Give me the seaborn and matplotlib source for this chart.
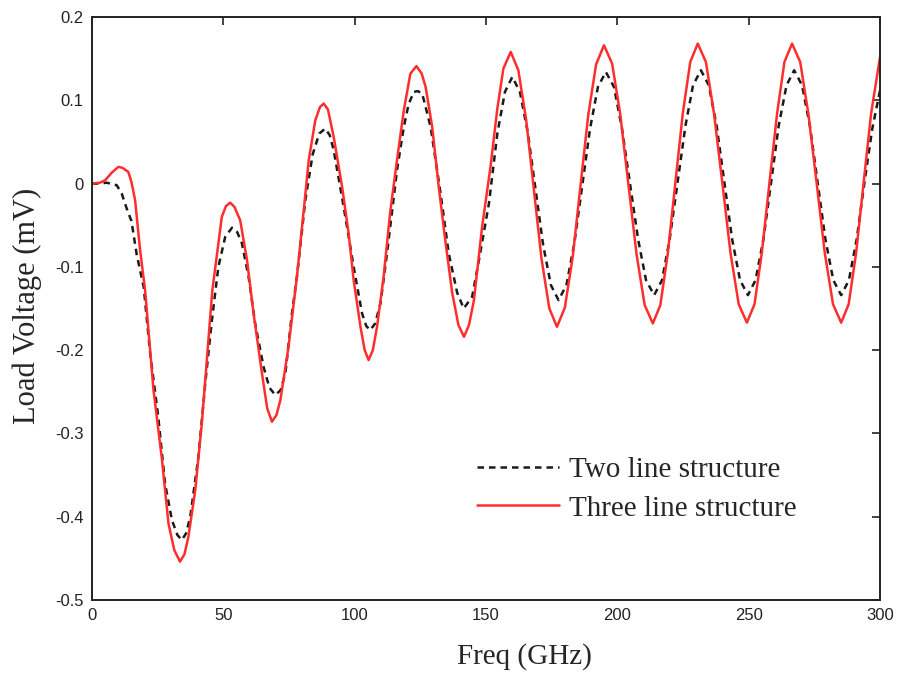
import matplotlib
matplotlib.use("Agg")
import matplotlib.pyplot as plt
import seaborn as sns
import pandas as pd

# Two line structure (dashed)
freq_two = [0, 3, 5.6, 9.4, 11.3, 13.2, 15, 17, 19.7, 22.1, 25.2, 27.8, 30.4, 32.5,
            34.2, 35.8, 37.4, 40.5, 43.1, 45.6, 48.1, 50.7, 53.3, 55.2, 57, 59.6,
            62.1, 65.3, 67.5, 69.8, 71.8, 73.6, 76.1, 78, 81.2, 84, 86.5, 88.8, 90.5,
            92, 95.8, 99.6, 102.8, 104.4, 105.9, 107.8, 109.8, 112.3, 116.1, 118.7,
            120.5, 122.5, 124, 125.7, 128.9, 132.7, 135.8, 139, 141.5, 144.7, 147.3,
            151.1, 154.3, 157.2, 160,
            162.9, 165.9, 168.8, 171.7, 174.7, 177.6,
            180.6, 183.6, 186.6, 189.6, 192.6, 195.6,
            198.7, 201.7, 204.8, 207.9, 210.9, 214,
            217.0, 219.9, 222.9, 225.9, 228.8, 231.8,
            234.8, 237.8, 240.75, 243.7, 246.7, 249.7,
            252.6, 255.6, 258.5, 261.4, 264.4, 267.3,
            270.3, 273.3, 276.25, 279.2, 282.2, 285.2,
            288.15, 291.1, 294.05, 297, 300]
volt_two = [0, 0, 0.001, -0.002, -0.012, -0.03, -0.045, -0.085, -0.125, -0.203, -0.28,
            -0.36, -0.404, -0.422, -0.428, -0.42, -0.4, -0.328, -0.24, -0.165, -0.1,
            -0.064, -0.053, -0.058, -0.071, -0.112, -0.168, -0.22, -0.245, -0.254,
            -0.248, -0.228, -0.156, -0.112, -0.02, 0.035, 0.06, 0.066, 0.058, 0.04,
            -0.028, -0.1, -0.156, -0.171, -0.176, -0.168, -0.144, -0.084, 0.016, 0.068,
            0.095, 0.11, 0.111, 0.108, 0.068, -0.012, -0.084, -0.131, -0.15, -0.136,
            -0.092, -0.024, 0.06, 0.11, 0.128,
            0.110, 0.061, -0.006, -0.073, -0.122, -0.140,
            -0.122, -0.072, -0.003, 0.066, 0.116, 0.134,
            0.116, 0.067, 0.0, -0.067, -0.116, -0.134,
            -0.116, -0.067, 0.001, 0.069, 0.118, 0.136,
            0.118, 0.069, 0.001, -0.067, -0.116, -0.134,
            -0.116, -0.067, 0.001, 0.069, 0.118, 0.136,
            0.118, 0.069, 0.001, -0.067, -0.116, -0.134,
            -0.116, -0.067, 0.001, 0.065, 0.112]

# Three line structure (solid red)
freq_three = [0, 3, 5, 7.5, 10, 11.5, 13.8, 15, 16.4, 18.3, 20.2, 23.4, 26.5, 29.1,
              31.3, 33.5, 35.2, 36.7, 39.3, 41.8, 44.3, 45.8, 48.1, 49.4, 51, 52.6,
              54.2, 56.4, 59, 61.5, 64.7, 66.7, 68.5, 70.2, 71.7, 74.8, 78, 80.6, 82.5,
              85, 86.8, 88.2, 89.8, 92, 95.2, 97.7, 99.6, 102.2, 103.8, 105.3, 106.9,
              108.5, 111, 113.6, 116.1, 118.7, 121.2, 123.5, 125.5, 127, 129.5, 132,
              134.6, 137.1, 139.5, 141.6, 143.5, 145.4, 148.5, 151.7, 154.3, 156.6,
              159.4,
              162.3, 165.3, 168.2, 171.1, 174.1, 177,
              180.0, 183.0, 185.95, 188.9, 191.9, 194.9,
              198.0, 201.1, 204.2, 207.3, 210.4, 213.5,
              216.35, 219.2, 222.05, 224.9, 227.75, 230.6,
              233.7, 236.8, 239.95, 243.05, 246.2, 249.3,
              252.2, 255.0, 257.9, 260.8, 263.6, 266.5,
              269.6, 272.7, 275.85, 278.95, 282.1, 285.2,
              288.05, 290.9, 293.75, 296.6, 300]
volt_three = [0, 0.001, 0.004, 0.013, 0.02, 0.019, 0.014, 0.002, -0.02, -0.08, -0.128,
              -0.248, -0.328, -0.408, -0.44, -0.454, -0.445, -0.424, -0.368, -0.288,
              -0.188, -0.128, -0.072, -0.04, -0.027, -0.023, -0.028, -0.044, -0.092,
              -0.156, -0.228, -0.27, -0.286, -0.278, -0.26, -0.196, -0.112, -0.032,
              0.028, 0.076, 0.092, 0.096, 0.089, 0.056, -0.004, -0.06, -0.116, -0.172,
              -0.2, -0.212, -0.2, -0.172, -0.112, -0.032, 0.028, 0.088, 0.132, 0.141,
              0.132, 0.116, 0.068, -0.004, -0.071, -0.131, -0.17, -0.184, -0.17, -0.14,
              -0.052, 0.02, 0.09, 0.138, 0.158,
              0.136, 0.076, -0.007, -0.090, -0.150, -0.172,
              -0.149, -0.088, -0.003, 0.082, 0.143, 0.166,
              0.144, 0.083, -0.001, -0.085, -0.146, -0.168,
              -0.146, -0.084, 0.0, 0.084, 0.146, 0.168,
              0.146, 0.084, 0.001, -0.083, -0.145, -0.167,
              -0.145, -0.083, 0.001, 0.084, 0.146, 0.168,
              0.146, 0.084, 0.001, -0.083, -0.145, -0.167,
              -0.145, -0.083, 0.001, 0.084, 0.152]

x_ticks = [0, 50, 100, 150, 200, 250, 300]
y_ticks = [-0.5, -0.4, -0.3, -0.2, -0.1, 0, 0.1, 0.2]
y_tick_labels = ["-0.5", "-0.4", "-0.3", "-0.2", "-0.1", "0", "0.1", "0.2"]

sns.set_style("white")
plt.rcParams["font.family"] = ["Liberation Sans", "DejaVu Sans"]

df_two = pd.DataFrame({"freq": freq_two, "volt": volt_two})
df_three = pd.DataFrame({"freq": freq_three, "volt": volt_three})

fig = plt.figure(figsize=(8.97, 6.73), dpi=100)
ax = fig.add_axes([0.1026, 0.1085, 0.8785, 0.8663])

sns.lineplot(data=df_two, x="freq", y="volt", ax=ax, color="#1a1a1a",
             linewidth=1.8, linestyle=(0, (2.6, 2.0)), label="Two line structure",
             sort=False)
sns.lineplot(data=df_three, x="freq", y="volt", ax=ax, color="#ff2e2e",
             linewidth=1.8, label="Three line structure", sort=False)

ax.set_xlim(0, 300)
ax.set_ylim(-0.5, 0.2)
ax.set_xticks(x_ticks)
ax.set_xticklabels([str(t) for t in x_ticks])
ax.set_yticks(y_ticks)
ax.set_yticklabels(y_tick_labels)
ax.tick_params(direction="in", length=6, width=1.2, top=True, right=True,
               labelsize=12, pad=6, colors="#222222")

for side in ax.spines.values():
    side.set_visible(True)
    side.set_color("#222222")
    side.set_linewidth(1.4)

serif = ["Liberation Serif", "DejaVu Serif"]
ax.set_xlabel("Freq (GHz)", fontsize=21, family=serif)
ax.set_ylabel("Load Voltage (mV)", fontsize=22, family=serif)
ax.xaxis.set_label_coords(0.549, -0.074)
ax.yaxis.set_label_coords(-0.064, 0.505)

leg = ax.legend(loc="upper left", bbox_to_anchor=(0.474, 0.266), frameon=False,
                prop={"family": serif, "size": 21}, handlelength=2.8,
                handletextpad=0.35, labelspacing=0.42, borderaxespad=0)

fig.savefig("out.png", dpi=100)
